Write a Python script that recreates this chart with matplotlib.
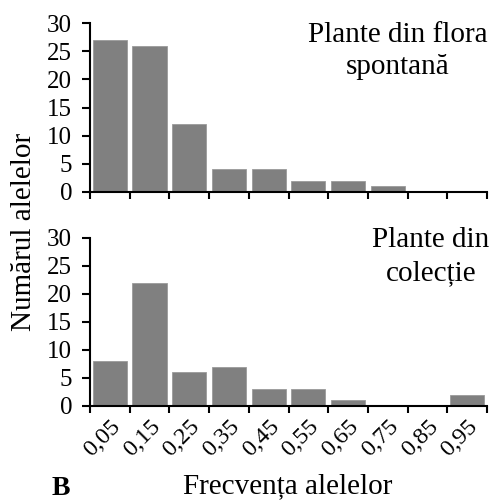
import numpy as np
import matplotlib.pyplot as plt
from matplotlib.ticker import FixedLocator

plt.rcParams['font.family'] = ['Liberation Serif', 'DejaVu Serif']

# category labels and counts per frequency class
freq_labels = ['0,05', '0,15', '0,25', '0,35', '0,45', '0,55', '0,65', '0,75', '0,85', '0,95']
spontana = [27, 26, 12, 4, 4, 2, 2, 1, 0, 0]
colectie = [8, 22, 6, 7, 3, 3, 1, 0, 0, 2]

W, H = 494, 500
fig = plt.figure(figsize=(W / 100, H / 100), dpi=100)

def px_axes(x0, y0, x1, y1):
    return fig.add_axes([x0 / W, 1 - y1 / H, (x1 - x0) / W, (y1 - y0) / H])

def px_text(x, y, s, **kw):
    return fig.text(x / W, 1 - y / H, s, **kw)

ax1 = px_axes(90, 23, 487, 192)
ax2 = px_axes(90, 238, 487, 406)

x = np.arange(len(freq_labels))
for ax, vals in ((ax1, spontana), (ax2, colectie)):
    ax.bar(x, vals, width=0.86, color='#808080', edgecolor='#9a9a9a', linewidth=0.6)
    ax.set_xlim(-0.5, len(x) - 0.5)
    ax.set_ylim(0, 30)
    ax.set_yticks(range(0, 31, 5))
    ax.spines['top'].set_visible(False)
    ax.spines['right'].set_visible(False)
    ax.spines['left'].set_linewidth(1.5)
    ax.spines['bottom'].set_linewidth(1.5)
    ax.xaxis.set_minor_locator(FixedLocator(np.arange(-0.5, len(x), 1.0)))
    ax.tick_params(axis='x', which='major', length=0)
    ax.tick_params(axis='x', which='minor', length=5, width=1.5, direction='out')
    ax.tick_params(axis='y', length=5.8, width=1.5, direction='out', labelsize=18, pad=7)

ax1.set_xticks(x)
ax1.set_xticklabels([])
ax2.set_xticks(x)
ax2.set_xticklabels(freq_labels, rotation=45, ha='right', va='top',
                    rotation_mode='anchor', fontsize=17.5)
ax2.tick_params(axis='x', which='major', pad=7)

# panel captions, one text per line
px_text(398, 42, 'Plante din flora', ha='center', va='baseline', fontsize=21)
px_text(398, 74, 'spontană', ha='center', va='baseline', fontsize=21)
px_text(431, 247, 'Plante din', ha='center', va='baseline', fontsize=21)
px_text(431, 280, 'colecție', ha='center', va='baseline', fontsize=21)

px_text(24, 232, 'Numărul alelelor', rotation=90, ha='center', va='center', fontsize=21)
px_text(288, 493, 'Frecvența alelelor', ha='center', va='baseline', fontsize=21)
px_text(61, 495, 'B', ha='center', va='baseline', fontsize=20, fontweight='bold')

fig.savefig('out.png', dpi=100)
